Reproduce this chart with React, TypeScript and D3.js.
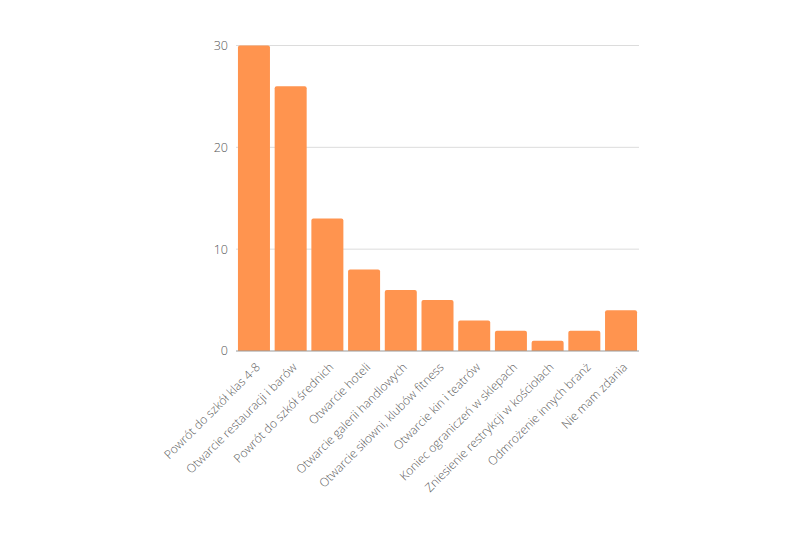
import * as d3 from "d3";

const categories = [
  "Powrót do szkół klas 4-8",
  "Otwarcie restauracji i barów",
  "Powrót do szkół średnich",
  "Otwarcie hoteli",
  "Otwarcie galerii handlowych",
  "Otwarcie siłowni, klubów fitness",
  "Otwarcie kin i teatrów",
  "Koniec ograniczeń w sklepach",
  "Zniesienie restrykcji w kościołach",
  "Odmrożenie innych branż",
  "Nie mam zdania",
];
const values = [30, 26, 13, 8, 6, 5, 3, 2, 1, 2, 4];
const yTicks = [0, 10, 20, 30];

const width = 800;
const height = 533;
const font = "'Open Sans', sans-serif";

export default function App() {
  const x = d3
    .scaleBand<string>()
    .domain(categories)
    .range([235.6, 639.4])
    .paddingInner(0.128)
    .paddingOuter(0.064);

  const y = d3.scaleLinear().domain([0, 30]).range([351, 45.5]);

  // bar with slightly rounded top corners
  const barPath = (x0: number, y0: number, w: number, h: number) => {
    const r = Math.min(2, h);
    return `M${x0},${y0 + h}V${y0 + r}Q${x0},${y0} ${x0 + r},${y0}H${x0 + w - r}Q${x0 + w},${y0} ${x0 + w},${y0 + r}V${y0 + h}Z`;
  };

  return (
    <svg
      width={width}
      height={height}
      style={{ position: "absolute", left: 0, top: 0, background: "#fff" }}
    >
      {/* gridlines + y labels */}
      {yTicks.map((t) => (
        <g key={t}>
          {t !== 0 && (
            <line
              x1={236}
              x2={639}
              y1={y(t)}
              y2={y(t)}
              stroke="#dcdcdc"
              strokeWidth={1}
            />
          )}
          <text
            x={228}
            y={y(t)}
            dy="0.35em"
            textAnchor="end"
            fontFamily={font}
            fontWeight={300}
            fontSize={12.5}
            fill="#555"
          >
            {t}
          </text>
        </g>
      ))}

      {/* bars */}
      {categories.map((c, i) => (
        <path
          key={c}
          d={barPath(x(c)!, y(values[i]), x.bandwidth(), y(0) - y(values[i]))}
          fill="#ff944f"
        />
      ))}

      {/* baseline */}
      <line x1={236} x2={639} y1={y(0)} y2={y(0)} stroke="#999" strokeWidth={1.2} />

      {/* category labels */}
      {categories.map((c) => (
        <text
          key={c}
          transform={`translate(${x(c)! + x.bandwidth() / 2 + 4},${y(0) + 14}) rotate(-45)`}
          textAnchor="end"
          dy="0.35em"
          fontFamily={font}
          fontWeight={300}
          fontSize={12}
          fill="#5a5a5a"
        >
          {c}
        </text>
      ))}
    </svg>
  );
}
